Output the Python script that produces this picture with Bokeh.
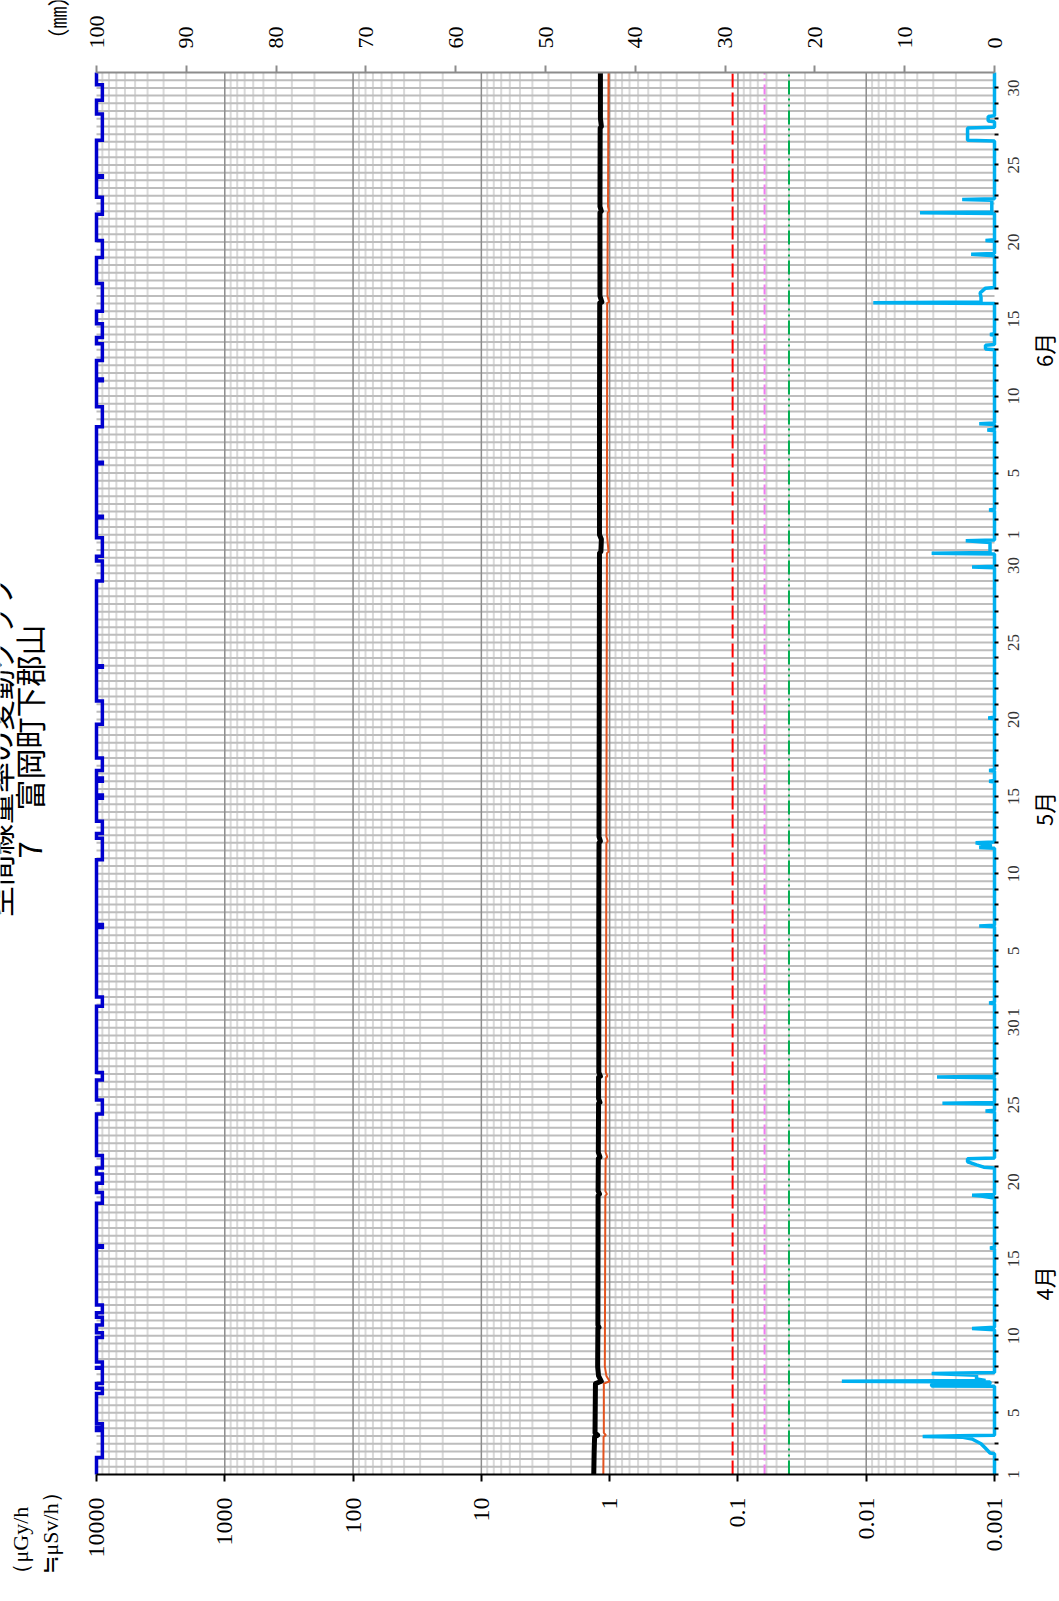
import math
import numpy as np
from bokeh.plotting import figure
from bokeh.models import Range1d, LinearAxis, LogAxis, FixedTicker, LinearScale
from bokeh.core.properties import value
from bokeh.embed import file_html
from bokeh.resources import INLINE

# ---------------- data (time = days after 1 April 00:00) ----------------
month_names = ["4月", "5月", "6月"]
month_start = [0, 30, 61]
month_len = [30, 31, 30]
label_dom = [1, 5, 10, 15, 20, 25, 30]

dose_ticks = [10000, 1000, 100, 10, 1, 0.1, 0.01, 0.001]
dose_labels = ["10000", "1000", "100", "10", "1", "0.1", "0.01", "0.001"]
rain_ticks = [0, 10, 20, 30, 40, 50, 60, 70, 80, 90, 100]

black_day = [0, 1.5, 2.45, 2.55, 2.7, 5.9, 6.05, 6.4, 7.0, 9.5, 9.55, 9.7, 18.1, 18.2, 18.4,
             20.5, 20.6, 20.9, 24.1, 24.15, 24.4, 25.8, 25.85, 26.1, 35.6, 41.0, 41.1, 41.4,
             50, 59.8, 59.9, 60.7, 61.0, 68.2, 76.05, 76.1, 76.5, 81.9, 82.0, 82.3, 87.4,
             87.5, 88.0, 91]
black_val = [1.33, 1.32, 1.31, 1.24, 1.30, 1.29, 1.16, 1.22, 1.24, 1.235, 1.21, 1.235, 1.23,
             1.20, 1.23, 1.225, 1.19, 1.225, 1.22, 1.19, 1.22, 1.22, 1.18, 1.215, 1.215, 1.21,
             1.18, 1.21, 1.205, 1.20, 1.17, 1.16, 1.20, 1.20, 1.195, 1.15, 1.19, 1.19, 1.16,
             1.19, 1.185, 1.16, 1.18, 1.18]
orange_day = [0, 2.45, 2.55, 2.7, 5.9, 6.05, 6.4, 7.0, 18.1, 18.2, 18.4, 20.5, 20.6, 20.9,
              25.8, 25.85, 26.1, 41.0, 41.1, 41.4, 59.8, 59.9, 61.0, 76.05, 76.1, 76.5, 81.9,
              82.0, 82.3, 91]
orange_val = [1.12, 1.115, 1.07, 1.11, 1.11, 1.00, 1.06, 1.09, 1.08, 1.05, 1.08, 1.075, 1.045,
              1.075, 1.07, 1.04, 1.07, 1.06, 1.035, 1.06, 1.05, 1.02, 1.05, 1.045, 1.01, 1.04,
              1.035, 1.01, 1.03, 1.02]

rain_day = [0, 1.35, 1.4, 1.7, 2.0, 2.3, 2.42, 2.47, 2.52, 2.55,
            5.72, 5.75, 5.85, 5.9, 6.0, 6.05, 6.1, 6.2, 6.45, 6.55, 6.62,
            9.4, 9.48, 9.56, 14.65, 14.7, 14.75,
            17.95, 18.0, 18.08, 18.12, 18.17,
            19.9, 19.95, 20.1, 20.3, 20.5, 20.55,
            23.55, 23.6, 23.65, 24.05, 24.1, 24.15, 25.75, 25.8, 25.85,
            30.55, 30.6, 30.65, 35.55, 35.6, 35.65,
            40.65, 40.7, 40.8, 41.0, 41.05,
            44.95, 45.0, 45.05, 45.65, 45.7, 45.75, 49.05, 49.1, 49.15,
            58.85, 58.9, 58.95, 59.75, 59.8, 59.85, 60.5, 60.6, 60.65,
            62.55, 62.6, 62.65, 67.75, 67.8, 67.85, 68.15, 68.2, 68.25,
            73.0, 73.05, 73.3, 73.35, 73.95, 74.0, 74.05,
            76.0, 76.05, 76.1, 76.4, 76.7, 77.0, 77.05,
            79.1, 79.2, 79.25, 80.05, 80.1, 80.15,
            81.85, 81.9, 81.95, 82.7, 82.75, 82.8,
            86.55, 86.6, 87.4, 87.45, 87.8, 87.85, 88.15, 88.2, 91]
rain_mm = [0, 0, 0.5, 1.0, 1.5, 2.5, 3.5, 8.0, 4.0, 0,
           0, 7.0, 7.0, 0.5, 0.5, 17.0, 1.0, 2.0, 2.0, 7.0, 0,
           0, 2.5, 0, 0, 0.5, 0,
           0, 0.6, 1.5, 2.5, 0,
           0, 1.2, 2.0, 3.0, 3.0, 0,
           0, 1.0, 0, 0, 5.8, 0, 0, 6.4, 0,
           0, 0.6, 0, 0, 1.7, 0,
           0, 1.7, 0.3, 2.1, 0,
           0, 0.6, 0, 0, 0.6, 0, 0, 0.7, 0,
           0, 2.5, 0, 0, 7.0, 0.5, 0.5, 3.2, 0,
           0, 0.6, 0, 0, 0.8, 0, 0, 1.7, 0,
           0, 1.0, 1.0, 0, 0, 0.5, 0,
           0, 13.5, 1.5, 1.5, 1.6, 1.0, 0,
           0, 2.6, 0, 0, 1.0, 0,
           0, 8.3, 0.3, 0.3, 3.6, 0,
           0, 3.0, 3.0, 0, 0, 0.7, 0.7, 0, 0]

# rain-detection periods (start, end) in days
det_start = [1.1, 3.05, 5.25, 5.9, 6.95, 8.9, 9.7, 10.5, 14.75, 17.6, 18.9, 19.9, 23.4, 25.6,
             30.4, 35.5, 39.9, 41.6, 43.9, 45.0, 45.7, 48.7, 52.4, 58.0, 59.6, 62.1, 65.6,
             68.0, 71.0, 72.3, 73.8, 75.5, 79.0, 81.8, 84.2, 86.6, 89.2]
det_end = [2.85, 3.3, 5.6, 6.9, 7.3, 9.2, 10.2, 11.0, 14.85, 18.3, 19.5, 20.7, 24.3, 26.1,
           31.0, 35.7, 41.3, 42.4, 44.1, 45.2, 46.5, 50.2, 52.5, 59.3, 60.8, 62.2, 65.7,
           69.3, 71.1, 73.4, 74.7, 77.3, 80.1, 82.9, 84.3, 88.3, 90.2]
det_off = 10000
det_on = 9000

ref_values = [0.11, 0.062, 0.04]

# ---------------- layout: plot box in page pixels ----------------
FL, FR, FT, FB = 96, 994, 72, 1474
DAYS = 91
def dose_at(px):
    return 10 ** (4 - 7 * (px - FL) / (FR - FL))
def day_at(py):
    return DAYS * (FB - py) / (FB - FT)
def mm_at(px):
    return 100 * (FR - px) / (FR - FL)

W, H = 1059, 1601
p = figure(width=W, height=H, x_axis_type="log",
           x_range=Range1d(dose_at(0), dose_at(W)), y_range=Range1d(day_at(H), day_at(0)),
           x_axis_location=None, y_axis_location=None, title=None,
           output_backend="svg", toolbar_location=None, min_border=0)
p.outline_line_color = None
p.background_fill_color = "white"
p.border_fill_color = "white"
for g in p.grid:
    g.visible = False
p.extra_x_ranges = {"rain": Range1d(mm_at(0), mm_at(W))}
p.extra_x_scales = {"rain": LinearScale()}

NUMF = "Liberation Serif"
CJK = "Noto Sans CJK JP"

# ---------------- grid lines (inside the plot box) ----------------
minor_dose = [m * 10 ** e for e in range(-3, 4) for m in range(2, 10)]
inner_decades = dose_ticks[1:-1]
half_days = list(np.arange(0.5, DAYS, 0.5))
p.segment(x0=minor_dose, y0=0, x1=minor_dose, y1=DAYS, line_color="#d9d9d9", line_width=2)
p.segment(x0=dose_ticks[0], y0=half_days, x1=dose_ticks[-1], y1=half_days,
          line_color="#bdbdbd", line_width=2)
p.segment(x0=inner_decades, y0=0, x1=inner_decades, y1=DAYS, line_color="#8c8c8c",
          line_width=1.5)

# ---------------- axes ----------------
xa = LogAxis(fixed_location=0, bounds=(dose_ticks[-1], dose_ticks[0]),
             ticker=FixedTicker(ticks=dose_ticks))
xa.major_label_overrides = {t: s for t, s in zip(dose_ticks, dose_labels)}
xa.major_label_orientation = math.pi / 2
xa.major_tick_out = 7
xa.major_tick_in = 0
xa.minor_tick_line_color = None
xa.axis_line_color = "black"
xa.axis_line_width = 2
xa.major_tick_line_color = "black"
xa.major_tick_line_width = 2
xa.major_label_standoff = 16
xa.major_label_text_font = NUMF
xa.major_label_text_font_size = "24px"
xa.major_label_text_color = "black"
p.add_layout(xa, "below")

ra = LinearAxis(x_range_name="rain", fixed_location=DAYS, bounds=(0, 100),
                ticker=FixedTicker(ticks=rain_ticks))
ra.major_label_orientation = math.pi / 2
ra.axis_line_color = "#8c8c8c"
ra.axis_line_width = 2
ra.major_tick_line_color = "#8c8c8c"
ra.major_tick_line_width = 2
ra.major_tick_out = 7
ra.major_tick_in = 0
ra.minor_tick_line_color = None
ra.major_label_standoff = 17
ra.major_label_text_font = NUMF
ra.major_label_text_font_size = "22px"
ra.major_label_text_color = "black"
p.add_layout(ra, "above")

ya = LinearAxis(fixed_location=dose_ticks[-1], bounds=(0, DAYS),
                ticker=FixedTicker(ticks=list(range(0, DAYS))))
ya.major_tick_out = 4
ya.major_tick_in = 0
ya.major_tick_line_color = "black"
ya.major_tick_line_width = 2
ya.minor_tick_line_color = None
ya.axis_line_color = None
ya.major_label_text_color = None
p.add_layout(ya, "right")

# ---------------- reference lines ----------------
ref_styles = [("#ff0000", "14 5"), ("#f07cf0", "10 4 2 4"), ("#00b050", "14 4 2 4 2 4")]
for v, (c, dsh) in zip(ref_values, ref_styles):
    p.segment(x0=v, y0=0, x1=v, y1=DAYS, line_color=c, line_width=2, line_dash=dsh)

# ---------------- series ----------------
det_x, det_y = [det_off], [0]
for s, e in zip(det_start, det_end):
    det_x += [det_off, det_on, det_on, det_off]
    det_y += [s, s, e, e]
det_x.append(det_off)
det_y.append(DAYS)
p.line(det_x, det_y, line_color="#0000cd", line_width=3.5, line_join="miter")

p.line(rain_mm, rain_day, x_range_name="rain", line_color="#00b0f0", line_width=3.5)

p.line(orange_val, orange_day, line_color="#e2531f", line_width=2)
p.line(black_val, black_day, line_color="black", line_width=5, line_join="round")

# ---------------- texts ----------------
def vtext(xs, ys, texts, font, size, align="center", color="black"):
    p.text(x=xs, y=ys, text=texts, angle=math.pi / 2, text_align=align,
           text_baseline="middle", text_font=value(font), text_font_size=value(size),
           text_color=color)

# day-of-month labels beside the right edge
tick_days, tick_labels = [], []
for ms, ml in zip(month_start, month_len):
    for d in label_dom:
        if d <= ml:
            tick_days.append(ms + d - 1)
            tick_labels.append(str(d))
vtext([dose_at(1013)] * len(tick_days), tick_days, tick_labels, NUMF, "17px", color="#333333")

# month labels (placed below each month's middle, as in the source chart)
month_label_day = [12.4, 43.2, 73.0]
vtext([dose_at(1042)] * 3, month_label_day, month_names, CJK, "22px")

# title
vtext([dose_at(-3), dose_at(28)], [day_at(746), day_at(741)],
      ["空間線量率の変動グラフ", "7　富岡町下郡山"], CJK, "31px")

# unit labels
vtext([dose_at(20), dose_at(50)], [day_at(1584), day_at(1573)], ["（μGy/h", "≒μSv/h）"],
      NUMF, "22px", align="left")
vtext([dose_at(55)], [day_at(50)], ["（㎜）"], CJK, "22px", align="left")

open("out.html", "w").write(file_html(p, INLINE))
